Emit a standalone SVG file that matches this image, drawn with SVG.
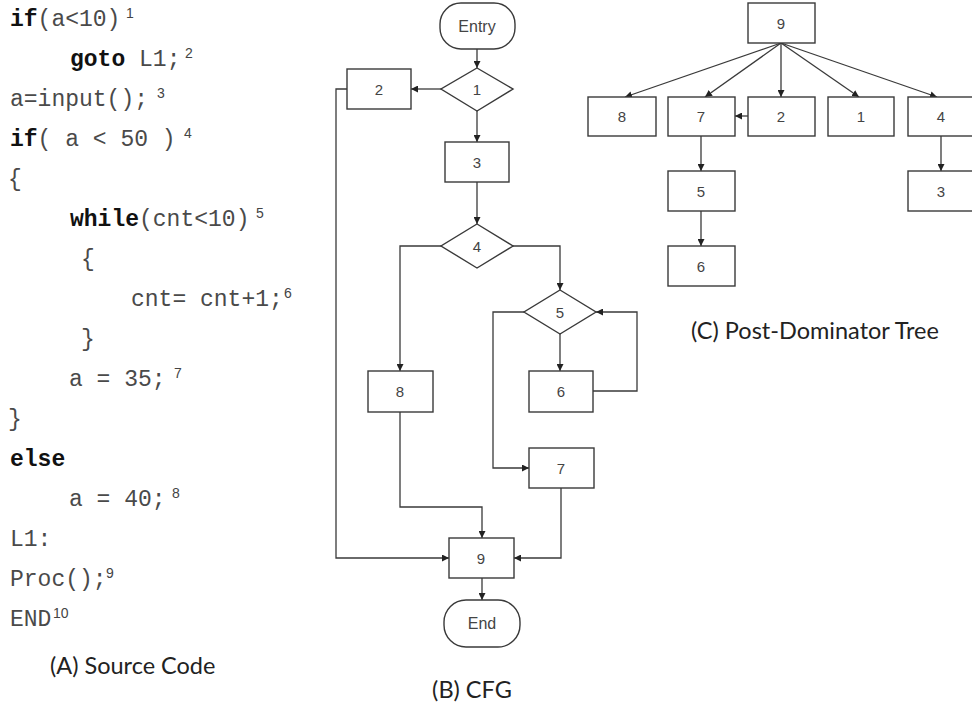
<svg xmlns="http://www.w3.org/2000/svg" width="972" height="704" viewBox="0 0 972 704">
  <style>
    .code { font-family: "Liberation Mono", "Courier New", monospace; font-size: 23px; fill: #4a4a4a; }
    .kw { font-weight: bold; fill: #111; }
    .sup { font-family: "Liberation Sans", Arial, sans-serif; font-size: 14px; fill: #444; }
    .cap { font-family: Lato, "Open Sans", sans-serif; font-size: 23.5px; fill: #222; }
    .box { fill: #fff; stroke: #3a3a3a; stroke-width: 1.4; }
    .lbl { font-family: "Liberation Sans", Arial, sans-serif; font-size: 15px; fill: #444; text-anchor: middle; dominant-baseline: central; }
    .term { font-size: 16px; }
    .edge { fill: none; stroke: #3a3a3a; stroke-width: 1.3; marker-end: url(#arr); }
  </style>
  <defs>
    <marker id="arr" viewBox="0 0 10 10" refX="10" refY="5" markerWidth="7" markerHeight="7" markerUnits="userSpaceOnUse" orient="auto">
      <path d="M0,0 L10,5 L0,10 z" fill="#222"/>
    </marker>
  </defs>
  <rect width="972" height="704" fill="#fff"/>

  <!-- (A) source code listing -->
  <g id="source-code">
    <text class="code" x="10" y="26"><tspan class="kw">if</tspan>(a&lt;10)</text>
    <text class="code" x="70" y="66"><tspan class="kw">goto</tspan> L1;</text>
    <text class="code" x="10" y="106">a=input();</text>
    <text class="code" x="10" y="146"><tspan class="kw">if</tspan>( a &lt; 50 )</text>
    <text class="code" x="8" y="186">{</text>
    <text class="code" x="70" y="226"><tspan class="kw">while</tspan>(cnt&lt;10)</text>
    <text class="code" x="81" y="266">{</text>
    <text class="code" x="131" y="306">cnt= cnt+1;</text>
    <text class="code" x="81" y="346">}</text>
    <text class="code" x="69" y="386">a = 35;</text>
    <text class="code" x="8" y="426">}</text>
    <text class="code" x="10" y="466"><tspan class="kw">else</tspan></text>
    <text class="code" x="69" y="506">a = 40;</text>
    <text class="code" x="10" y="546">L1:</text>
    <text class="code" x="10" y="586">Proc();</text>
    <text class="code" x="10" y="626">END</text>
    <!-- statement numbers -->
    <text class="sup" x="126" y="18">1</text>
    <text class="sup" x="185" y="58">2</text>
    <text class="sup" x="157" y="98">3</text>
    <text class="sup" x="184" y="138">4</text>
    <text class="sup" x="256" y="218">5</text>
    <text class="sup" x="284" y="298">6</text>
    <text class="sup" x="174" y="378">7</text>
    <text class="sup" x="172" y="498">8</text>
    <text class="sup" x="106" y="578">9</text>
    <text class="sup" x="53" y="618">10</text>
    <text class="cap" x="50" y="674">(A) Source Code</text>
  </g>

  <!-- (B) control flow graph -->
  <g id="cfg-edges">
    <path class="edge" d="M477,49 V68"/>
    <path class="edge" d="M441,89 H411"/>
    <path class="edge" d="M477,111 V142"/>
    <path class="edge" d="M347,89 H336 V558 H449"/>
    <path class="edge" d="M477,182 V224"/>
    <path class="edge" d="M441,246 H400 V371"/>
    <path class="edge" d="M513,246 H560 V290"/>
    <path class="edge" d="M560,334 V371"/>
    <path class="edge" d="M593,391 H637 V312 H596"/>
    <path class="edge" d="M524,312 H493 V468 H529"/>
    <path class="edge" d="M561,488 V558 H514"/>
    <path class="edge" d="M400,412 V507 H482 V538"/>
    <path class="edge" d="M482,578 V600"/>
  </g>
  <g id="cfg-entry"><rect class="box" x="440" y="3" width="75" height="46" rx="21"/><text class="lbl term" x="477" y="26">Entry</text></g>
  <g id="cfg-1"><polygon class="box" points="477,68 513,89 477,111 441,89"/><text class="lbl" x="477" y="89">1</text></g>
  <g id="cfg-2"><rect class="box" x="347" y="69" width="64" height="40"/><text class="lbl" x="379" y="89">2</text></g>
  <g id="cfg-3"><rect class="box" x="445" y="142" width="64" height="40"/><text class="lbl" x="477" y="162">3</text></g>
  <g id="cfg-4"><polygon class="box" points="477,224 513,246 477,268 441,246"/><text class="lbl" x="477" y="246">4</text></g>
  <g id="cfg-5"><polygon class="box" points="560,290 596,312 560,334 524,312"/><text class="lbl" x="560" y="312">5</text></g>
  <g id="cfg-6"><rect class="box" x="529" y="371" width="64" height="41"/><text class="lbl" x="561" y="391">6</text></g>
  <g id="cfg-7"><rect class="box" x="529" y="448" width="65" height="40"/><text class="lbl" x="561" y="468">7</text></g>
  <g id="cfg-8"><rect class="box" x="368" y="371" width="65" height="41"/><text class="lbl" x="400" y="391">8</text></g>
  <g id="cfg-9"><rect class="box" x="449" y="538" width="65" height="40"/><text class="lbl" x="481" y="558">9</text></g>
  <g id="cfg-end"><rect class="box" x="444" y="600" width="76" height="47" rx="22"/><text class="lbl term" x="482" y="623">End</text></g>
  <text class="cap" x="472" y="698" text-anchor="middle">(B) CFG</text>

  <!-- (C) post-dominator tree -->
  <g id="pdt-edges">
    <path class="edge" d="M781,43 L625,97"/>
    <path class="edge" d="M781,43 L705,97"/>
    <path class="edge" d="M781,43 V97"/>
    <path class="edge" d="M781,43 L859,97"/>
    <path class="edge" d="M781,43 L937,97"/>
    <path class="edge" d="M748,116 H735"/>
    <path class="edge" d="M701,136 V171"/>
    <path class="edge" d="M701,211 V246"/>
    <path class="edge" d="M941,136 V171"/>
  </g>
  <g id="pdt-9"><rect class="box" x="748" y="3" width="67" height="40"/><text class="lbl" x="781" y="23">9</text></g>
  <g id="pdt-8"><rect class="box" x="588" y="97" width="68" height="39"/><text class="lbl" x="622" y="116">8</text></g>
  <g id="pdt-7"><rect class="box" x="668" y="97" width="67" height="39"/><text class="lbl" x="701" y="116">7</text></g>
  <g id="pdt-2"><rect class="box" x="748" y="97" width="67" height="39"/><text class="lbl" x="781" y="116">2</text></g>
  <g id="pdt-1"><rect class="box" x="828" y="97" width="66" height="39"/><text class="lbl" x="861" y="116">1</text></g>
  <g id="pdt-4"><rect class="box" x="908" y="97" width="67" height="39"/><text class="lbl" x="941" y="116">4</text></g>
  <g id="pdt-5"><rect class="box" x="668" y="171" width="67" height="40"/><text class="lbl" x="701" y="191">5</text></g>
  <g id="pdt-3"><rect class="box" x="908" y="171" width="67" height="40"/><text class="lbl" x="941" y="191">3</text></g>
  <g id="pdt-6"><rect class="box" x="668" y="246" width="67" height="40"/><text class="lbl" x="701" y="266">6</text></g>
  <text class="cap" x="815" y="339" text-anchor="middle">(C) Post-Dominator Tree</text>
</svg>
